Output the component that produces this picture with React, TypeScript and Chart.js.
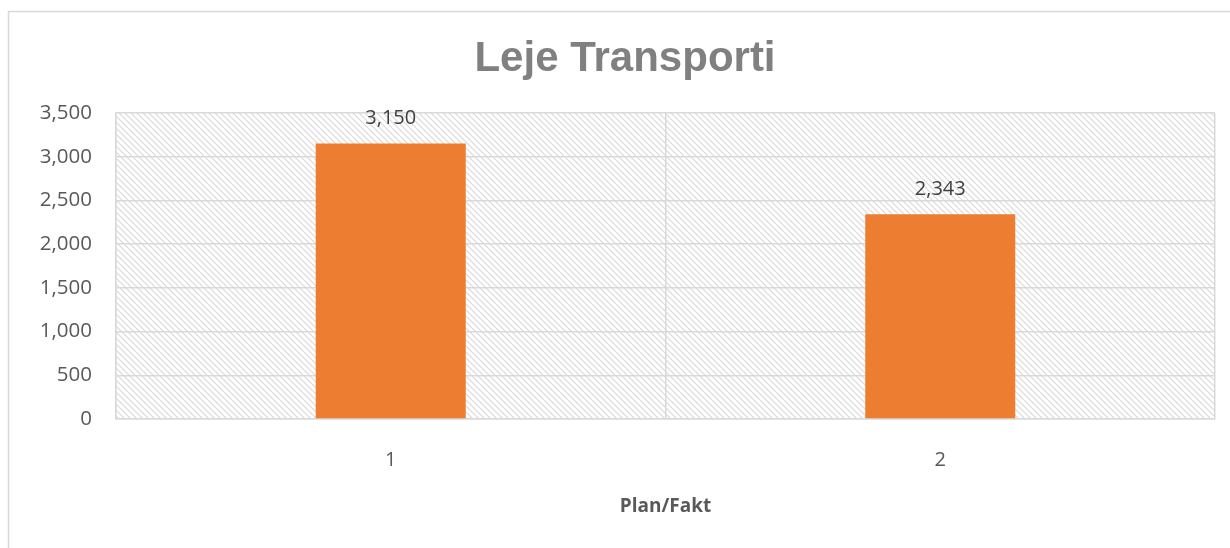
import React, { useEffect, useRef } from "react";
import { Chart, registerables } from "chart.js";

Chart.register(...registerables);

const chartTitle = "Leje Transporti";
const axisTitle = "Plan/Fakt";
const categories = ["1", "2"];
const values = [3150, 2343];
const yTicks = [0, 500, 1000, 1500, 2000, 2500, 3000, 3500];

const fmt = (v: number) => v.toLocaleString("en-US");

function makeHatch(): CanvasPattern | string {
  const s = 6;
  const c = document.createElement("canvas");
  c.width = s;
  c.height = s;
  const g = c.getContext("2d");
  if (!g) return "#f2f2f2";
  g.fillStyle = "#ffffff";
  g.fillRect(0, 0, s, s);
  g.strokeStyle = "#d9d9d9";
  g.lineWidth = 1.2;
  g.beginPath();
  g.moveTo(-1, -1);
  g.lineTo(s + 1, s + 1);
  g.moveTo(-s - 1, -1);
  g.lineTo(1, s + 1);
  g.moveTo(s - 1, -1);
  g.lineTo(2 * s + 1, s + 1);
  g.stroke();
  const p = g.createPattern(c, "repeat");
  return p || "#f2f2f2";
}

export default function App() {
  const ref = useRef<HTMLCanvasElement | null>(null);

  useEffect(() => {
    if (!ref.current) return;
    const hatch = makeHatch();

    const decor = {
      id: "decor",
      beforeDraw(chart: any) {
        const { ctx, chartArea } = chart;
        ctx.save();
        ctx.fillStyle = "#ffffff";
        ctx.fillRect(0, 0, chart.width, chart.height);
        ctx.fillStyle = hatch;
        ctx.fillRect(chartArea.left, chartArea.top, chartArea.right - chartArea.left, chartArea.bottom - chartArea.top);
        // outer chart border
        ctx.strokeStyle = "#d9d9d9";
        ctx.lineWidth = 1.5;
        ctx.beginPath();
        ctx.moveTo(8.5, chart.height);
        ctx.lineTo(8.5, 11.5);
        ctx.lineTo(chart.width, 11.5);
        ctx.stroke();
        // title
        ctx.fillStyle = "#808080";
        ctx.font = "bold 42px 'Liberation Sans', Arial, sans-serif";
        ctx.textAlign = "center";
        ctx.textBaseline = "alphabetic";
        ctx.fillText(chartTitle, 625, 71);
        ctx.restore();
      },
      afterDatasetsDraw(chart: any) {
        const { ctx } = chart;
        const meta = chart.getDatasetMeta(0);
        ctx.save();
        ctx.fillStyle = "#404040";
        ctx.font = "20px 'Open Sans', sans-serif";
        ctx.textAlign = "center";
        ctx.textBaseline = "middle";
        meta.data.forEach((el: any, i: number) => {
          ctx.fillText(fmt(values[i]), el.x, el.y - 25);
        });
        ctx.restore();
      },
    };

    const chart = new Chart(ref.current, {
      type: "bar",
      data: {
        labels: categories,
        datasets: [
          {
            data: values,
            backgroundColor: "#ED7D31",
            borderWidth: 0,
            barPercentage: 0.273,
            categoryPercentage: 1,
          },
        ],
      },
      options: {
        animation: false,
        responsive: false,
        devicePixelRatio: 1,
        locale: "en-US",
        layout: { padding: { top: 113, right: 15, left: 0, bottom: 0 } },
        plugins: {
          legend: { display: false },
          title: { display: false },
          tooltip: { enabled: false },
        },
        scales: {
          x: {
            offset: true,
            grid: { color: "#d9d9d9", lineWidth: 1.5, offset: true, drawTicks: false },
            border: { color: "#d9d9d9", width: 1.5 },
            ticks: { color: "#595959", font: { family: "'Open Sans', sans-serif", size: 20 }, padding: 29 },
            title: {
              display: true,
              text: axisTitle,
              color: "#595959",
              font: { family: "'Open Sans', sans-serif", size: 19, weight: "bold" },
              padding: { top: 0, bottom: 30 },
            },
            afterFit(axis: any) {
              axis.height = 129;
            },
          },
          y: {
            min: 0,
            max: 3500,
            afterBuildTicks(axis: any) {
              axis.ticks = yTicks.map((v) => ({ value: v }));
            },
            grid: { color: "#d9d9d9", lineWidth: 1.5, drawTicks: false },
            border: { color: "#d9d9d9", width: 1.5 },
            ticks: {
              color: "#595959",
              font: { family: "'Open Sans', sans-serif", size: 20.5 },
              padding: 24,
              callback: (v: any) => fmt(Number(v)),
            },
            afterFit(axis: any) {
              axis.width = 116;
            },
          },
        },
      },
      plugins: [decor],
    } as any);

    return () => chart.destroy();
  }, []);

  return (
    <div style={{ position: "absolute", left: 0, top: 0, width: 1230, height: 548 }}>
      <canvas ref={ref} width={1230} height={548} style={{ display: "block" }} />
    </div>
  );
}
